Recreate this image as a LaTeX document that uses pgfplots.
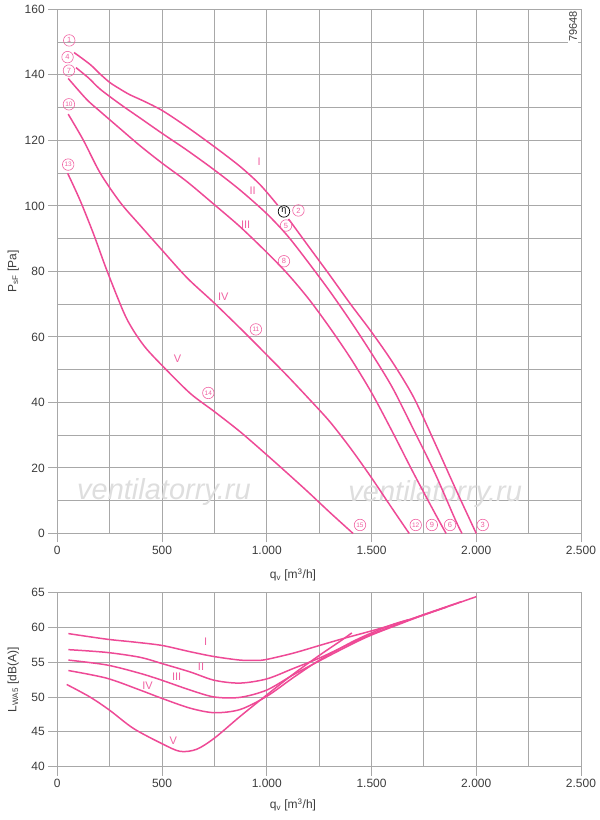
\documentclass[border=0pt]{standalone}
\usepackage{fontspec}
\setmainfont{Liberation Sans}
\usepackage{pgfplots}
\pgfplotsset{compat=1.18}
\definecolor{crv}{RGB}{238,74,150}
\definecolor{lbl}{RGB}{240,98,162}
\definecolor{grd}{RGB}{168,168,168}
\definecolor{txt}{RGB}{60,60,60}
\definecolor{wm}{RGB}{222,222,222}
\pgfplotsset{
  base/.style={
    scale only axis, width=523.7pt,
    xmin=0, xmax=2500,
    xtick={0,500,...,2500}, minor xtick={250,750,...,2250},
    grid=both,
    major grid style={grd, line width=1pt},
    minor grid style={grd, line width=0.8pt},
    axis line style={grd, line width=1pt},
    tick style={grd, line width=1pt},
    major tick length=9pt, minor tick length=0pt,
    tick align=outside, xtick pos=bottom, ytick pos=left,
    every tick label/.append style={font=\fontsize{12}{12}\selectfont, text=txt},
    label style={font=\fontsize{12}{14}\selectfont, text=txt},
    /pgf/number format/assume math mode=true,
    /pgf/number format/1000 sep={.},
    clip=false,
  },
  crvs/.style={crv, line width=1.5pt, smooth, no marks},
}
\tikzset{
  cn/.style={circle, draw=lbl, text=lbl, line width=0.6pt, inner sep=0pt, minimum size=11.5pt, font=\fontsize{7.5}{7.5}\selectfont},
  cnn/.style={cn, font=\fontsize{6.5}{6.5}\selectfont},
  rn/.style={text=lbl, font=\fontsize{11}{11}\selectfont, inner sep=0pt},
}
\begin{document}
\begin{tikzpicture}
\path[use as bounding box] (0pt,0pt) rectangle (600pt,820pt);
% ---------------- top axis
\begin{axis}[base, at={(57.3pt,286.5pt)}, anchor=south west, height=524.2pt,
  ymin=0, ymax=160, ytick={0,20,...,160}, minor ytick={10,30,...,150},
  xlabel={q\textsubscript{v} [m\textsuperscript{3}/h]},
  ylabel={P\textsubscript{sF} [Pa]},
  xlabel style={at={(axis description cs:0.45,-0.079)}, anchor=center},
  ylabel style={at={(axis description cs:-0.084,0.5)}, anchor=center},
]
\node[text=wm, font=\itshape\fontsize{29}{29}\selectfont] at (axis cs:509,12.7) {ventilatorry.ru};
\node[text=wm, font=\itshape\fontsize{29}{29}\selectfont] at (axis cs:1804,12.0) {ventilatorry.ru};
% curve I
\addplot[crvs] coordinates {(80,146.8) (156,143.2) (205,140.2) (252,137.6) (301,135.6) (347,133.9) (412,132.0) (501,129.1) (619,124.1) (751,118.0) (873,112.0) (969,106.4) (1052,100.2)};
\addplot[crvs] coordinates {(1104,96.0) (1200,87.6) (1300,78.9) (1400,70.0) (1500,61.5) (1600,52.3) (1700,41.7) (1800,28.0) (1900,13.8) (2000,0)};
% curve II
\addplot[crvs] coordinates {(89,142.2) (150,139.0) (205,135.6) (301,131.0) (400,126.6) (501,122.1) (619,117.0) (751,110.9) (873,104.8) (1000,97.6) (1100,90.8) (1200,82.6) (1300,74.0) (1400,64.8) (1500,55.0) (1600,44.5) (1700,31.8) (1800,18.8) (1900,4.2) (1932,0)};
% curve III
\addplot[crvs] coordinates {(52,138.9) (140,132.5) (205,128.8) (301,123.5) (396,118.3) (501,113.0) (619,107.4) (751,100.3) (873,93.6) (1000,85.8) (1100,79.2) (1200,71.6) (1300,62.9) (1400,53.5) (1500,43.0) (1600,31.0) (1700,18.5) (1800,6.5) (1856,0)};
% curve IV
\addplot[crvs] coordinates {(52,128.0) (124,120.1) (205,110.0) (301,101.0) (396,94.0) (500,86.5) (620,78.0) (750,70.3) (904,60.7) (1000,54.5) (1100,48.0) (1200,41.2) (1300,34.2) (1400,26.0) (1500,17.0) (1600,7.5) (1680,0)};
% curve V
\addplot[crvs] coordinates {(49,110.0) (108,101.8) (172,91.6) (236,80.4) (315,67.8) (360,62.3) (420,56.8) (500,51.3) (634,42.8) (750,37.2) (872,31.1) (1000,24.0) (1100,18.3) (1200,12.5) (1300,6.5) (1412,0)};
% labels
\node[cn] at (axis cs:57,150.5) {1};
\node[cn] at (axis cs:49,145.4) {4};
\node[cn] at (axis cs:55.5,141.3) {7};
\node[cnn] at (axis cs:55.5,131.0) {10};
\node[cnn] at (axis cs:52,112.6) {13};
\node[circle, draw=black, text=black, fill=white, line width=0.7pt, inner sep=0pt, minimum size=11.5pt, font=\fontsize{9}{9}\selectfont] at (axis cs:1082,98.3) {η};
\node[cn] at (axis cs:1151,98.6) {2};
\node[cn] at (axis cs:1092,94.0) {5};
\node[cn] at (axis cs:1082,83.1) {8};
\node[cnn] at (axis cs:948,62.3) {11};
\node[cnn] at (axis cs:721,42.9) {14};
\node[cnn] at (axis cs:1445,2.6) {15};
\node[cnn] at (axis cs:1711,2.6) {12};
\node[cn] at (axis cs:1788,2.6) {9};
\node[cn] at (axis cs:1875,2.6) {6};
\node[cn] at (axis cs:2031,2.6) {3};
\node[rn] at (axis cs:964,113.4) {I};
\node[rn] at (axis cs:933,104.7) {II};
\node[rn] at (axis cs:899,94.4) {III};
\node[rn] at (axis cs:792,72.2) {IV};
\node[rn] at (axis cs:574,53.4) {V};
\node[rotate=90, fill=white, inner sep=1pt, text=txt, font=\fontsize{11}{11}\selectfont] at (axis cs:2462,154.7) {79648};
\end{axis}
% ---------------- bottom axis
\begin{axis}[base, at={(57.3pt,53.3pt)}, anchor=south west, height=174.2pt,
  ymin=40, ymax=65, ytick={40,45,...,65},
  xlabel={q\textsubscript{v} [m\textsuperscript{3}/h]},
  ylabel={L\textsubscript{WA5} [dB(A)]},
  xlabel style={at={(axis description cs:0.45,-0.22)}, anchor=center},
  ylabel style={at={(axis description cs:-0.084,0.5)}, anchor=center},
]
% I
\addplot[crvs] coordinates {(53,59.1) (236,58.3) (363,57.9) (500,57.4) (634,56.5) (750,55.8) (872,55.3) (950,55.25) (1000,55.4) (1127,56.3) (1252,57.4) (1366,58.4) (1501,59.5) (1637,60.7) (1751,61.8) (1876,63.1) (2000,64.4)};
% II
\addplot[crvs] coordinates {(53,56.8) (236,56.4) (395,55.7) (500,54.8) (634,53.6) (750,52.4) (872,52.0) (1000,52.6) (1127,54.1) (1252,55.6) (1400,57.7) (1500,59.0) (1637,60.6) (1751,61.85) (1930,63.7)};
% III
\addplot[crvs] coordinates {(53,55.3) (236,54.6) (395,53.4) (500,52.4) (634,51.0) (750,50.0) (872,49.95) (1000,51.0) (1127,53.2) (1252,55.2) (1400,57.5) (1500,58.9) (1637,60.5) (1751,61.8) (1858,62.9)};
% IV
\addplot[crvs] coordinates {(53,53.8) (236,52.7) (395,51.0) (500,49.8) (634,48.4) (750,47.75) (872,48.2) (1000,50.1) (1127,52.8) (1252,55.3) (1400,57.8) (1500,59.2) (1600,60.4) (1677,61.1)};
% V
\addplot[crvs] coordinates {(45,51.8) (156,50.0) (250,48.1) (363,45.5) (500,43.3) (586,42.2) (665,42.5) (750,44.1) (872,47.2) (1000,50.3) (1127,53.3) (1252,56.0) (1350,58.0) (1406,59.2)};
\node[rn] at (axis cs:708,58.0) {I};
\node[rn] at (axis cs:686,54.4) {II};
\node[rn] at (axis cs:570,52.9) {III};
\node[rn] at (axis cs:431,51.6) {IV};
\node[rn] at (axis cs:554,43.8) {V};
\end{axis}
\end{tikzpicture}
\end{document}
